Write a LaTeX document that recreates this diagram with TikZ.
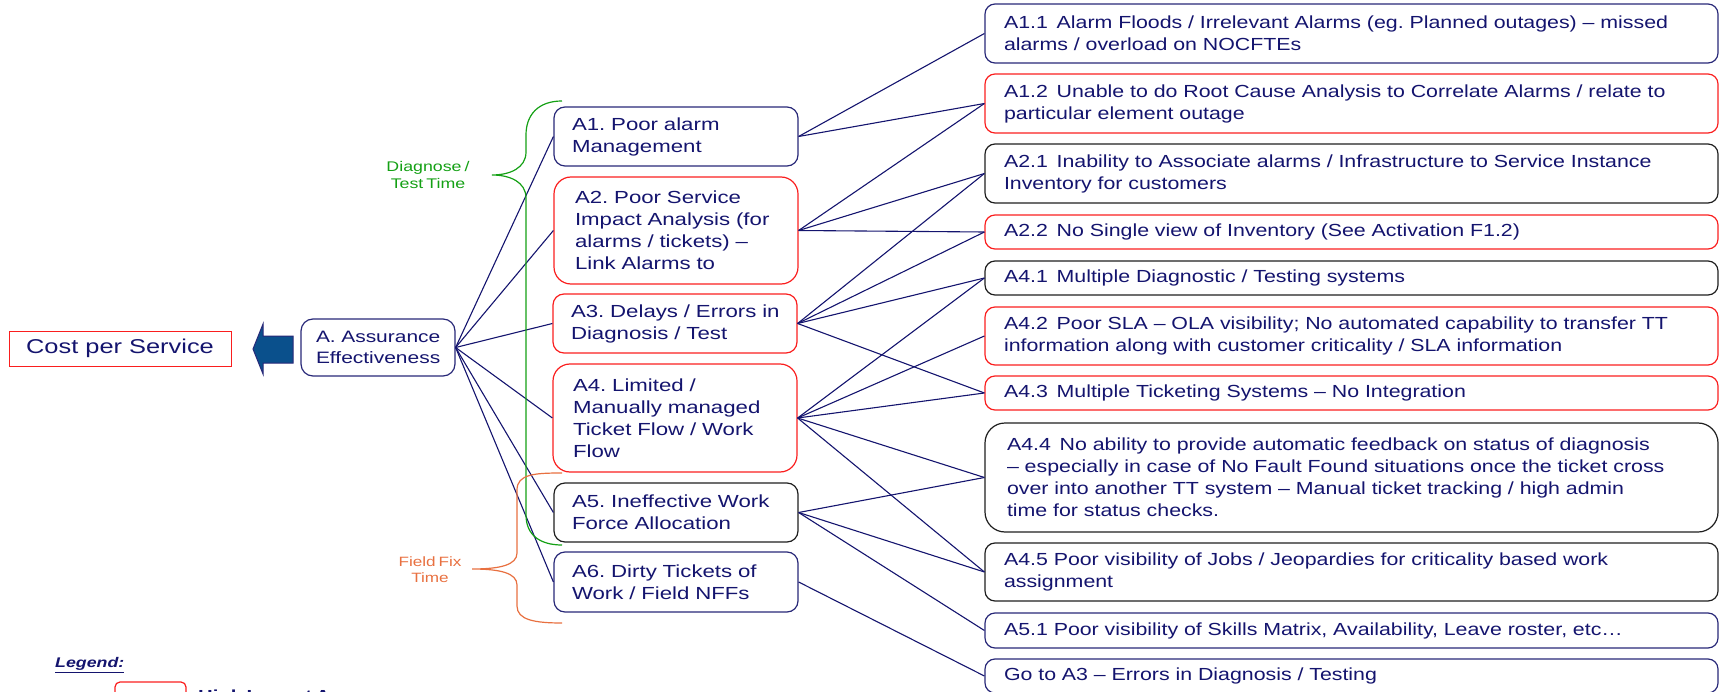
\documentclass[tikz,border=0pt]{standalone}
\usepackage{fontspec}
\setmainfont{Liberation Sans}[FakeStretch=1.27,WordSpace=0.6,Ligatures=TeX]
\newfontfamily\rfont{Liberation Sans}[FakeStretch=1.22,WordSpace=0.8,Ligatures=TeX]
\newfontfamily\cfont{Liberation Sans}[FakeStretch=1.27]
\frenchspacing
\definecolor{navy}{RGB}{20,20,110}
\definecolor{bnavy}{RGB}{40,40,120}
\definecolor{bred}{RGB}{250,30,30}
\definecolor{bblack}{RGB}{30,30,30}
\definecolor{bgreen}{RGB}{20,160,20}
\definecolor{borange}{RGB}{232,112,64}
\definecolor{arrowblue}{RGB}{10,80,140}
\begin{document}
\begin{tikzpicture}[x=1pt,y=-1pt,
  box/.style={draw, line width=1.2pt, rounded corners=11pt, inner xsep=18pt, inner ysep=0pt,
    align=left, text=navy, font=\fontsize{17.5}{22}\selectfont,
    execute at begin node={\frenchspacing\hyphenpenalty=10000\exhyphenpenalty=10000}},
  lbox/.style={box, text width=208pt, minimum width=244pt},
  rbox/.style={box, rounded corners=10pt, inner xsep=19pt, text width=695pt, minimum width=733pt,
    font=\rfont\fontsize{17.5}{22}\selectfont},
  link/.style={draw=navy, line width=1.1pt}]
\useasboundingbox (0,0) rectangle (1720,692);

% root and cost
\node[draw=bred, line width=1pt, minimum width=222pt, minimum height=35pt, inner sep=0pt,
  text=navy, font=\cfont\fontsize{20}{24}\selectfont] (cost) at (120,348.5) {Cost per Service};
\node[box, draw=bnavy, rounded corners=12pt, inner xsep=15pt, text width=124pt, minimum width=154pt,
  minimum height=57pt, font=\fontsize{16.5}{21}\selectfont] (a) at (378,347.5) {\mbox{A. Assurance}\\Effectiveness};
\draw[draw=bnavy, fill=arrowblue, line width=1pt]
  (253,349) -- (263,324) -- (263,336) -- (293,336) -- (293,363) -- (263,363) -- (263,374) -- cycle;

% left boxes
\node[lbox, draw=bnavy, minimum height=59pt] (a1) at (676,136.5) {A1. Poor alarm\\Management};
\node[lbox, draw=bred, rounded corners=17pt, minimum height=107pt, inner xsep=21pt, text width=202pt] (a2) at (676,230.5) {A2. Poor Service\\Impact Analysis (for\\alarms / tickets) –\\Link Alarms to};
\node[lbox, draw=bred, minimum height=59pt] (a3) at (675,323.5) {\mbox{A3. Delays / Errors in}\\Diagnosis / Test};
\node[lbox, draw=bred, rounded corners=17pt, minimum height=108pt, inner xsep=20pt, text width=204pt] (a4) at (675,418) {A4. Limited /\\Manually managed\\Ticket Flow / Work\\Flow};
\node[lbox, draw=bblack, minimum height=59pt] (a5) at (676,512.5) {A5. Ineffective Work\\Force Allocation};
\node[lbox, draw=bnavy, minimum height=60pt] (a6) at (676,582) {A6. Dirty Tickets of\\Work / Field NFFs};

% right boxes
\node[rbox, draw=bnavy, minimum height=59pt] (r11) at (1351.5,33.5) {A1.1\enspace Alarm Floods / Irrelevant Alarms (eg. Planned outages) – missed\\alarms / overload on NOCFTEs};
\node[rbox, draw=bred, minimum height=59pt] (r12) at (1351.5,103.5) {A1.2\enspace Unable to do Root Cause Analysis to Correlate Alarms / relate to\\particular element outage};
\node[rbox, draw=bblack, minimum height=59pt] (r21) at (1351.5,173.5) {A2.1\enspace Inability to Associate alarms / Infrastructure to Service Instance\\Inventory for customers};
\node[rbox, draw=bred, minimum height=34pt] (r22) at (1351.5,232) {A2.2\enspace No Single view of Inventory (See Activation F1.2)};
\node[rbox, draw=bblack, minimum height=34pt] (r41) at (1351.5,278) {A4.1\enspace Multiple Diagnostic / Testing systems};
\node[rbox, draw=bred, minimum height=58pt] (r42) at (1351.5,336) {A4.2\enspace Poor SLA – OLA visibility; No automated capability to transfer TT\\information along with customer criticality / SLA information};
\node[rbox, draw=bred, minimum height=34pt] (r43) at (1351.5,393) {A4.3\enspace Multiple Ticketing Systems – No Integration};
\node[rbox, draw=bblack, rounded corners=20pt, inner xsep=22pt, text width=689pt, minimum height=109pt] (r44) at (1351.5,477.5) {A4.4\enspace No ability to provide automatic feedback on status of diagnosis\\– especially in case of No Fault Found situations once the ticket cross\\over into another TT system – Manual ticket tracking / high admin\\time for status checks.};
\node[rbox, draw=bblack, minimum height=58pt] (r45) at (1351.5,572) {A4.5 Poor visibility of Jobs / Jeopardies for criticality based work\\assignment};
\node[rbox, draw=bnavy, minimum height=35pt] (r51) at (1351.5,630.5) {A5.1 Poor visibility of Skills Matrix, Availability, Leave roster, etc\dots};
\node[rbox, draw=bnavy, minimum height=34pt] (rgo) at (1351.5,676) {Go to A3 – Errors in Diagnosis / Testing};

% connectors
\foreach \t in {a1,a2,a3,a4,a5,a6} \draw[link] (a.east) -- (\t.west);
\foreach \t in {r11,r12} \draw[link] (a1.east) -- (\t.west);
\foreach \t in {r12,r21,r22} \draw[link] (a2.east) -- (\t.west);
\foreach \t in {r21,r22,r41,r43} \draw[link] (a3.east) -- (\t.west);
\foreach \t in {r41,r42,r43,r44,r45} \draw[link] (a4.east) -- (\t.west);
\foreach \t in {r44,r45,r51} \draw[link] (a5.east) -- (\t.west);
\draw[link] (a6.east) -- (rgo.west);

% braces
\draw[bgreen, line width=1.2pt] (562,101) .. controls (538,101) and (526,115) .. (526,135)
  -- (526,152) .. controls (526,168) and (510,175) .. (492,175)
  .. controls (510,175) and (526,182) .. (526,198) -- (526,515)
  .. controls (526,535) and (540,545) .. (562,545);
\node[text=bgreen, align=center, font=\fontsize{14}{16.5}\selectfont] (dt) at (428,175) {Diagnose /\\Test Time};
\draw[borange, line width=1.2pt] (562,473) .. controls (535,473) and (517,474) .. (517,490)
  -- (517,553) .. controls (517,565) and (500,569) .. (472,569)
  .. controls (500,569) and (517,573) .. (517,585) -- (517,606)
  .. controls (517,620) and (535,623) .. (562,623);
\node[text=borange, align=center, font=\fontsize{13.5}{16}\selectfont] (ff) at (430,570) {Field Fix\\Time};

% legend
\node[anchor=west, text=navy, font=\bfseries\itshape\fontsize{14}{16}\selectfont, inner sep=0pt] (lg) at (55,665) {\underline{Legend:}};
\draw[bred, line width=1.2pt, rounded corners=5pt] (115,700) -- (115,682) -- (186,682) -- (186,700);
\node[anchor=north west, text=navy, font=\bfseries\fontsize{16}{18}\selectfont, inner sep=0pt] (lt) at (198,690) {High Impact Areas};
\end{tikzpicture}
\end{document}
